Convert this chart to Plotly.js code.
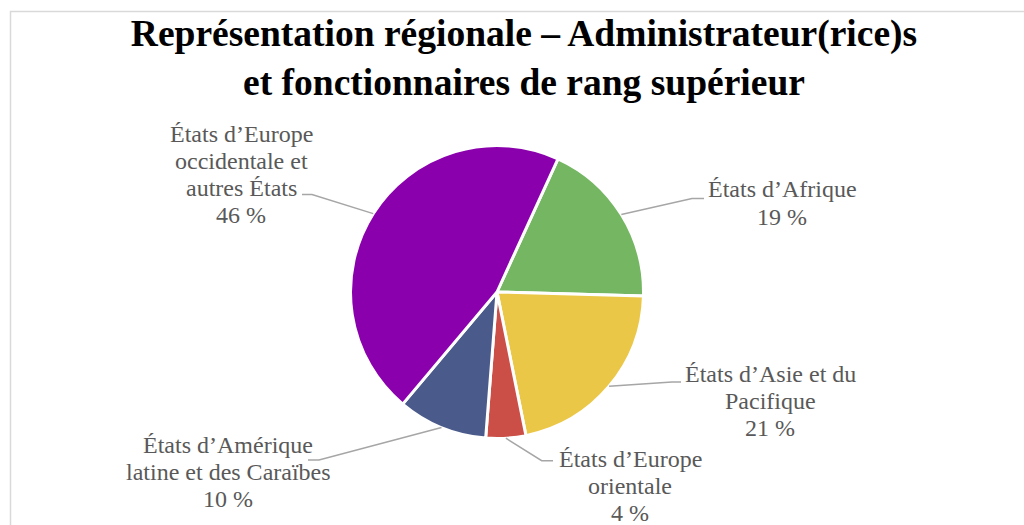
<!DOCTYPE html>
<html><head><meta charset="utf-8">
<script src="https://cdn.plot.ly/plotly-3.0.1.min.js"></script>
<style>html,body{margin:0;padding:0;background:#fff;} #chart{width:1024px;height:525px;}</style>
</head><body><div id="chart"></div>
<script>
// ---- data ----
const regions = [
  "États d’Afrique",
  "États d’Asie et du Pacifique",
  "États d’Europe orientale",
  "États d’Amérique latine et des Caraïbes",
  "États d’Europe occidentale et autres États"
];
const shares = [18.6, 21.4, 4.4, 9.9, 45.7];
const labelLines = [
  ["États d’Afrique"],
  ["États d’Asie et du", "Pacifique"],
  ["États d’Europe", "orientale"],
  ["États d’Amérique", "latine et des Caraïbes"],
  ["États d’Europe", "occidentale et", "autres États"]
];
const titleLines = ["Représentation régionale – Administrateur(rice)s", "et fonctionnaires de rang supérieur"];

// ---- styles / layout ----
const sliceColors = ["#74B662", "#EBC747", "#CB4F47", "#4A5A8A", "#8B00AD"];
const W = 1024, H = 525;
const pieCx = 497, pieCy = 292, pieR = 146.5;
const startAngle = 24.6;
const labelPos = [
  {cx: 782, b: 197.5, elbow: [692, 198.5], end: [704, 198.5]},
  {cx: 770, b: 381.7, elbow: [672, 382], end: [681, 382]},
  {cx: 630, b: 467.3, elbow: [541.7, 460.7], end: [553, 460.7]},
  {cx: 228, b: 452.7, elbow: [319, 460], end: [308, 460]},
  {cx: 241, b: 141.7, elbow: [312, 194.5], end: [302, 194.5]}
];
const lineGap = 27;
const labelFont = {family: "Liberation Serif, Times New Roman, serif", size: 24, color: "#595959"};
const px = x => x / W, py = y => 1 - y / H;

const total = shares.reduce((a, b) => a + b, 0);
const pctText = shares.map(v => Math.round(v / total * 100) + " %");

const annotations = [];
const shapes = [{
  type: "rect", xref: "paper", yref: "paper",
  x0: px(10.5), x1: 1.2, y0: -0.2, y1: py(11.5),
  line: {color: "#D9D9D9", width: 1.5}, fillcolor: "rgba(0,0,0,0)", layer: "below"
}];

let cum = 0;
shares.forEach((v, i) => {
  const mid = startAngle + (cum + v / 2) / total * 360;
  cum += v;
  const a = mid * Math.PI / 180;
  const sx = pieCx + pieR * Math.sin(a), sy = pieCy - pieR * Math.cos(a);
  const p = labelPos[i];
  shapes.push({
    type: "path", xref: "paper", yref: "paper",
    path: `M ${px(sx)},${py(sy)} L ${px(p.elbow[0])},${py(p.elbow[1])} L ${px(p.end[0])},${py(p.end[1])}`,
    line: {color: "#A6A6A6", width: 1.5}
  });
  const lines = labelLines[i].concat([pctText[i]]);
  lines.forEach((t, k) => {
    annotations.push({
      text: t, xref: "paper", yref: "paper",
      x: px(p.cx), y: py(p.b + k * lineGap - 8),
      xanchor: "center", yanchor: "middle", showarrow: false,
      font: labelFont
    });
  });
});

const trace = {
  type: "pie",
  labels: regions,
  values: shares,
  sort: false,
  direction: "clockwise",
  rotation: startAngle,
  textinfo: "none",
  hoverinfo: "label+percent",
  marker: {colors: sliceColors, line: {color: "#FFFFFF", width: 3}},
  domain: {x: [px(pieCx - pieR), px(pieCx + pieR)], y: [py(pieCy + pieR), py(pieCy - pieR)]}
};

const layout = {
  width: W, height: H,
  margin: {l: 0, r: 0, t: 0, b: 0},
  paper_bgcolor: "#FFFFFF",
  showlegend: false,
  title: {
    text: titleLines.join("<br>"),
    font: {family: "Liberation Serif, Times New Roman, serif", size: 37.5, color: "#000000", weight: "bold"},
    x: px(524), xref: "paper", xanchor: "center",
    y: py(46), yref: "container", yanchor: "top"
  },
  annotations: annotations,
  shapes: shapes
};

Plotly.newPlot("chart", [trace], layout, {displayModeBar: false, staticPlot: true});
</script>
</body></html>
